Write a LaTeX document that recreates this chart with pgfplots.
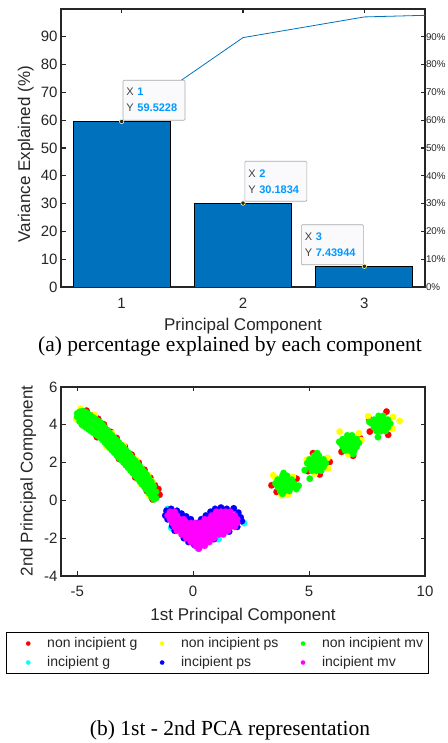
\documentclass[border=0pt]{standalone}
\usepackage{fontspec}
\setmainfont{Liberation Serif}
\newfontfamily\sans{Liberation Sans}
\usepackage{pgfplots}
\pgfplotsset{compat=1.18}
\definecolor{mblue}{RGB}{0,114,189}
\definecolor{axgray}{RGB}{38,38,38}
\definecolor{tipblue}{RGB}{0,153,255}
\definecolor{tiptext}{RGB}{64,64,64}
\definecolor{tipfill}{RGB}{250,250,252}
\definecolor{tipedge}{RGB}{170,170,170}
\definecolor{cR}{RGB}{255,0,0}
\definecolor{cY}{RGB}{255,255,0}
\definecolor{cG}{RGB}{0,255,0}
\definecolor{cC}{RGB}{0,255,255}
\definecolor{cB}{RGB}{0,0,255}
\definecolor{cM}{RGB}{255,0,255}
\newcommand{\tv}[1]{{\color{tipblue}\bfseries #1}}
\pgfplotsset{
  mystyle/.style={
    scale only axis,
    anchor=south west,
    axis line style={draw=axgray, line width=1.1pt},
    every tick/.style={draw=axgray, line width=1.1pt},
    major tick length=4.5pt,
    tick align=inside,
    tick label style={font=\fontsize{15}{15}\selectfont\sans, text=axgray},
    label style={font=\fontsize{17}{17}\selectfont\sans, text=axgray},
    /pgf/number format/assume math mode=true,
  },
  sc/.style={only marks, mark=*, mark size=3.3pt, color=#1, mark options={draw=#1, fill=#1, line width=0.1pt}},
}
\tikzset{tipbox/.style={draw=tipedge, fill=tipfill, line width=0.6pt, rounded corners=1pt,
  font=\fontsize{11}{16}\selectfont\sans, text=tiptext, align=left, text width=55pt,
  minimum height=40pt, inner xsep=3.5pt, inner ysep=0pt}}
\begin{document}
\begin{tikzpicture}
%================ top: pareto =================
\begin{axis}[mystyle, at={(61pt,456pt)}, width=364pt, height=278pt,
  xmin=0.5, xmax=3.5, ymin=0, ymax=100,
  axis x line=none, axis y line*=right,
  ytick={0,10,...,90},
  yticklabels={0\%,10\%,20\%,30\%,40\%,50\%,60\%,70\%,80\%,90\%},
  yticklabel style={font=\fontsize{9.8}{9.8}\selectfont\sans, text=axgray, xshift=-2.5pt},
]
\addplot[draw=none] coordinates {(1,0)};
\end{axis}
\begin{axis}[mystyle, at={(61pt,456pt)}, width=364pt, height=278pt,
  xmin=0.5, xmax=3.5, ymin=0, ymax=100,
  xtick={1,2,3}, ytick={0,10,...,90}, ytick pos=left,
  xticklabel style={anchor=base, yshift=-22pt},
  xlabel={Principal Component}, ylabel={Variance Explained (\%)},
  xlabel style={at={(axis description cs:0.5,-0.157)}, anchor=base},
  ylabel style={at={(axis description cs:-0.085,0.478)}, anchor=base},
]
\addplot[ybar, bar width=0.8, fill=mblue, draw=black, line width=0.8pt]
  coordinates {(1,59.5228) (2,30.1834) (3,7.43944)};
\addplot[mblue, line width=0.8pt, mark=none]
  coordinates {(1,59.5228) (2,89.7062) (3,97.1456) (4,98.3)};
\addplot[only marks, mark=*, mark size=2.2pt, mark options={fill=black!85, draw=yellow!40!white, line width=0.6pt}]
  coordinates {(1,59.5228) (2,30.1834) (3,7.43944)};
\node[tipbox, anchor=south west, xshift=1pt, yshift=1pt] at (axis cs:1,59.5228) {X \tv{1}\\Y \tv{59.5228}};
\node[tipbox, anchor=south west, xshift=1.5pt, yshift=1.5pt] at (axis cs:2,30.1834) {X \tv{2}\\Y \tv{30.1834}};
\node[tipbox, anchor=south east, xshift=-0.7pt, yshift=1.3pt] at (axis cs:3,7.43944) {X \tv{3}\\Y \tv{7.43944}};
\end{axis}
%================ bottom: scatter =================
\begin{axis}[mystyle, at={(61pt,167pt)}, width=364pt, height=189pt,
  xmin=-5.7, xmax=10, ymin=-4, ymax=6,
  xtick={-5,0,5,10}, ytick={-4,-2,0,2,4,6},
  xticklabel style={anchor=base, yshift=-21pt},
  xlabel={1st Principal Component}, ylabel={2nd Principal Component},
  xlabel style={at={(axis description cs:0.5,-0.238)}, anchor=base},
  ylabel style={at={(axis description cs:-0.078,0.503)}, anchor=base},
  legend columns=3,
  legend cell align=left,
  legend image code/.code={\path (0pt,0pt); \draw[#1, mark size=2.2pt] plot coordinates {(16pt,0pt)};},
  legend style={at={(-0.151,-0.296)}, anchor=north west, draw=black, line width=1.2pt,
    font=\fontsize{14}{16}\selectfont\sans, text=axgray,
    inner xsep=5pt, inner ysep=4.5pt, row sep=6pt,
    nodes={inner sep=0pt, text height=10pt, text depth=3pt},
    /tikz/every odd column/.append style={column sep=16.8pt},
    /tikz/every even column/.append style={column sep=8pt}},
]
% non incipient g
\addplot[sc=cR] coordinates {
(-4.6,4.75)(-4.3,4.5)(-4.1,4.32)(-3.85,4.02)(-3.55,3.62)(-3.3,3.3)(-2.95,2.85)(-2.65,2.42)
(-2.35,2.0)(-2.1,1.62)(-1.85,1.2)(-1.65,0.8)(-1.5,0.6)(-1.45,0.3)(-4.15,3.35)(-3.2,2.2)
(-2.5,1.22)(-2.0,0.5)(-1.75,0.05)(-4.5,4.1)(-3.9,3.6)(-3.0,2.4)(-2.2,1.2)
(3.38,0.8)(4.46,1.15)(3.6,0.45)(3.95,0.9)(5.17,2.5)(5.89,2.04)(5.46,1.37)(4.95,1.55)(5.3,1.95)
(6.4,2.57)(6.9,2.36)(7.2,3.3)(6.75,3.0)(8.34,4.7)(7.62,3.64)(8.41,3.47)(7.6,4.3)(8.1,4.05)};
\addlegendentry{non incipient g}
% non incipient ps
\addplot[sc=cY] coordinates {
(-5.05,4.3)(-4.85,4.85)(-4.25,4.52)(-4.75,3.95)(-3.75,2.85)(-3.0,2.9)(-2.45,2.15)(-2.25,0.85)
(-1.95,1.35)(-1.75,1.0)(-1.9,0.25)(-3.5,3.55)(-4.0,3.7)(-3.3,2.8)(-2.6,1.85)
(3.45,1.33)(3.81,0.27)(4.46,0.71)(3.55,1.2)(4.1,0.3)(4.3,1.25)(5.82,1.69)(5.25,1.42)(5.8,2.25)
(4.9,2.15)(6.32,3.64)(7.26,3.19)(6.7,2.45)(7.15,3.55)(8.91,4.2)(8.62,4.41)(7.55,4.45)(8.6,3.8)};
\addlegendentry{non incipient ps}
% non incipient mv
\addplot[sc=cG] coordinates {
(-5.0,4.42)(-5.0,4.6)
(-4.9,4.18)(-4.9,4.50)(-4.9,4.68)
(-4.8,4.01)(-4.8,4.41)(-4.8,4.72)
(-4.7,3.93)(-4.7,4.33)(-4.7,4.70)
(-4.6,3.84)(-4.6,4.24)(-4.6,4.64)
(-4.5,3.75)(-4.5,4.15)(-4.5,4.55)
(-4.4,3.66)(-4.4,4.06)(-4.4,4.46)
(-4.3,3.58)(-4.3,3.98)(-4.3,4.38)
(-4.2,3.49)(-4.2,3.89)(-4.2,4.29)
(-4.1,3.41)(-4.1,3.81)(-4.1,4.21)
(-4.0,3.32)(-4.0,3.72)(-4.0,4.12)
(-3.9,3.19)(-3.9,3.59)(-3.9,3.99)
(-3.8,3.05)(-3.8,3.45)(-3.8,3.85)
(-3.7,2.92)(-3.7,3.32)(-3.7,3.72)
(-3.6,2.78)(-3.6,3.18)(-3.6,3.58)
(-3.5,2.65)(-3.5,3.05)(-3.5,3.45)
(-3.4,2.52)(-3.4,2.92)(-3.4,3.32)
(-3.3,2.39)(-3.3,2.79)(-3.3,3.19)
(-3.2,2.26)(-3.2,2.66)(-3.2,3.06)
(-3.1,2.13)(-3.1,2.53)(-3.1,2.93)
(-3.0,2.00)(-3.0,2.40)(-3.0,2.80)
(-2.9,1.86)(-2.9,2.26)(-2.9,2.66)
(-2.8,1.72)(-2.8,2.12)(-2.8,2.52)
(-2.7,1.58)(-2.7,1.98)(-2.7,2.38)
(-2.6,1.44)(-2.6,1.84)(-2.6,2.24)
(-2.5,1.30)(-2.5,1.70)(-2.5,2.10)
(-2.4,1.15)(-2.4,1.55)(-2.4,1.95)
(-2.3,1.00)(-2.3,1.40)(-2.3,1.80)
(-2.2,0.85)(-2.2,1.25)(-2.2,1.65)
(-2.1,0.70)(-2.1,1.10)(-2.1,1.50)
(-2.0,0.55)(-2.0,0.95)(-2.0,1.35)
(-1.9,0.37)(-1.9,0.77)(-1.9,1.17)
(-1.8,0.18)(-1.8,0.58)(-1.8,0.98)
(-1.7,0.05)(-1.7,0.40)(-1.7,0.75)
(-1.6,0.12)(-1.6,0.45)
(3.85,1.30)(4.05,1.30)(3.65,1.10)(3.85,1.10)(4.05,1.10)(4.25,1.10)
(3.55,0.90)(3.75,0.90)(3.95,0.90)(4.15,0.90)(4.35,0.90)
(3.65,0.70)(3.85,0.70)(4.05,0.70)(4.25,0.70)(3.75,0.50)(3.95,0.50)(4.15,0.50)
(3.9,1.45)(3.85,0.35)(4.55,0.78)(4.45,0.6)
(5.22,2.37)(5.42,2.37)(5.02,2.17)(5.22,2.17)(5.42,2.17)(5.62,2.17)
(4.92,1.97)(5.12,1.97)(5.32,1.97)(5.52,1.97)(5.72,1.97)
(5.02,1.77)(5.22,1.77)(5.42,1.77)(5.62,1.77)(5.12,1.57)(5.32,1.57)(5.52,1.57)
(4.81,1.6)(5.03,1.15)(5.35,2.5)
(6.65,3.44)(6.85,3.44)(6.45,3.24)(6.65,3.24)(6.85,3.24)(7.05,3.24)
(6.35,3.04)(6.55,3.04)(6.75,3.04)(6.95,3.04)(7.15,3.04)
(6.45,2.84)(6.65,2.84)(6.85,2.84)(7.05,2.84)(6.55,2.64)(6.75,2.64)(6.95,2.64)
(6.9,2.45)(6.3,3.1)
(8.0,4.47)(8.2,4.47)(7.8,4.27)(8.0,4.27)(8.2,4.27)(8.4,4.27)
(7.7,4.07)(7.9,4.07)(8.1,4.07)(8.3,4.07)(8.5,4.07)
(7.8,3.87)(8.0,3.87)(8.2,3.87)(8.4,3.87)(7.9,3.67)(8.1,3.67)(8.3,3.67)
(7.97,3.35)(7.6,4.15)};
\addlegendentry{non incipient mv}
% incipient g
\addplot[sc=cC] coordinates {
(2.2,-1.2)(-1.1,-0.45)(0.2,-2.55)(-0.95,-1.45)(1.1,-2.05)(1.75,-0.45)(0.5,-1.5)(-0.4,-1.2)(1.2,-1.0)};
\addlegendentry{incipient g}
% incipient ps
\addplot[sc=cB] coordinates {
(-1.15,-0.55)(-1.2,-0.8)(-1.1,-1.0)(-0.95,-0.45)(-0.7,-0.55)(-0.5,-0.7)(-0.3,-0.85)(-0.1,-1.0)
(0.35,-1.0)(0.55,-0.8)(0.75,-0.6)(0.95,-0.45)(1.2,-0.38)(1.45,-0.45)(1.75,-0.42)(1.95,-0.65)
(2.05,-0.9)(2.1,-1.1)(-0.9,-1.35)(-0.8,-1.6)(-0.4,-2.0)(-0.2,-2.2)(0.05,-2.35)
(0.9,-2.05)(1.55,-1.65)(1.9,-1.4)(0.2,-1.2)};
\addlegendentry{incipient ps}
% incipient mv
\addplot[sc=cM] coordinates {
(-1.0,-0.6)(-0.8,-0.6)(1.0,-0.6)(1.2,-0.6)(1.4,-0.6)(1.6,-0.6)
(-1.1,-0.8)(-0.9,-0.8)(-0.7,-0.8)(0.8,-0.8)(1.0,-0.8)(1.2,-0.8)(1.4,-0.8)(1.6,-0.8)(1.8,-0.8)
(-1.0,-1.0)(-0.8,-1.0)(-0.6,-1.0)(-0.4,-1.0)(0.5,-1.0)(0.7,-1.0)(0.9,-1.0)(1.1,-1.0)(1.3,-1.0)(1.5,-1.0)(1.7,-1.0)(1.9,-1.0)
(-0.9,-1.2)(-0.7,-1.2)(-0.5,-1.2)(-0.3,-1.2)(-0.1,-1.2)(0.1,-1.2)(0.3,-1.2)(0.5,-1.2)(0.7,-1.2)(0.9,-1.2)(1.1,-1.2)(1.3,-1.2)(1.5,-1.2)(1.7,-1.2)(1.9,-1.2)
(-0.8,-1.4)(-0.6,-1.4)(-0.4,-1.4)(-0.2,-1.4)(0.0,-1.4)(0.2,-1.4)(0.4,-1.4)(0.6,-1.4)(0.8,-1.4)(1.0,-1.4)(1.2,-1.4)(1.4,-1.4)(1.6,-1.4)(1.8,-1.4)
(-0.7,-1.6)(-0.5,-1.6)(-0.3,-1.6)(-0.1,-1.6)(0.1,-1.6)(0.3,-1.6)(0.5,-1.6)(0.7,-1.6)(0.9,-1.6)(1.1,-1.6)(1.3,-1.6)(1.5,-1.6)
(-0.5,-1.8)(-0.3,-1.8)(-0.1,-1.8)(0.1,-1.8)(0.3,-1.8)(0.5,-1.8)(0.7,-1.8)(0.9,-1.8)(1.1,-1.8)(1.3,-1.8)
(-0.3,-2.0)(-0.1,-2.0)(0.1,-2.0)(0.3,-2.0)(0.5,-2.0)(0.7,-2.0)(0.9,-2.0)
(-0.1,-2.2)(0.1,-2.2)(0.3,-2.2)(0.5,-2.2)(0.7,-2.2)
(0.1,-2.4)(0.3,-2.4)(0.5,-2.4)(0.25,-2.55)};
\addlegendentry{incipient mv}
\end{axis}
%================ captions =================
\node[anchor=base, font=\fontsize{21.5}{21.5}\selectfont] at (230pt,391.3pt) {(a) percentage explained by each component};
\node[anchor=base, font=\fontsize{21.5}{21.5}\selectfont] at (230pt,8pt) {(b) 1st - 2nd PCA representation};
\pgfresetboundingbox
\path[use as bounding box] (0pt,0pt) rectangle (447pt,743pt);
\end{tikzpicture}
\end{document}
